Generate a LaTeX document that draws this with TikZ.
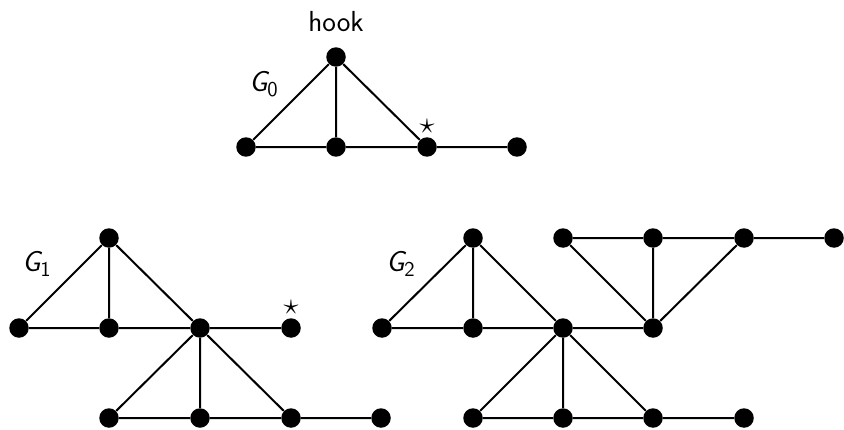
\documentclass[tikz,border=0pt]{standalone}
\begin{document}
\begin{tikzpicture}[x=0.02cm,y=-0.02cm,
  vtx/.style={circle,fill=black,inner sep=0pt,minimum size=0.39cm},
  edge/.style={line width=0.04cm},
  lbl/.style={font=\fontsize{16.5}{20}\selectfont\sffamily}]
\useasboundingbox (0,0) rectangle (844,429);

% G0
\node[vtx] (h) at (336,57) {};
\node[vtx] (a1) at (246,147) {};
\node[vtx] (a2) at (336,147) {};
\node[vtx] (a3) at (427,147) {};
\node[vtx] (a4) at (517,147) {};
\node[lbl] (hooklbl) at (336,22) {hook};
\node[lbl] (g0) at (264,84) {\itshape G$_{\mathsf{0}}$};
\node[lbl] (s0) at (427,126) {$\star$};
\draw[edge] (a1) -- (h) -- (a2) (h) -- (a3) (a1) -- (a2) -- (a3) -- (a4);

% G1
\node[vtx] (b0) at (109,238) {};
\node[vtx] (b1) at (19,328) {};
\node[vtx] (b2) at (109,328) {};
\node[vtx] (b3) at (200,328) {};
\node[vtx] (b4) at (291,328) {};
\node[vtx] (c1) at (109,418) {};
\node[vtx] (c2) at (200,418) {};
\node[vtx] (c3) at (291,418) {};
\node[vtx] (c4) at (381,418) {};
\node[lbl] (g1) at (37,264) {\itshape G$_{\mathsf{1}}$};
\node[lbl] (s1) at (291,307) {$\star$};
\draw[edge] (b1) -- (b0) -- (b2) (b0) -- (b3) (b1) -- (b2) -- (b3) -- (b4);
\draw[edge] (c1) -- (b3) -- (c2) (b3) -- (c3) (c1) -- (c2) -- (c3) -- (c4);

% G2
\node[vtx] (d0) at (473,238) {};
\node[vtx] (d1) at (382,328) {};
\node[vtx] (d2) at (473,328) {};
\node[vtx] (d3) at (563,328) {};
\node[vtx] (d4) at (653,328) {};
\node[vtx] (e1) at (473,418) {};
\node[vtx] (e2) at (563,418) {};
\node[vtx] (e3) at (653,418) {};
\node[vtx] (e4) at (744,418) {};
\node[vtx] (f1) at (563,238) {};
\node[vtx] (f2) at (653,238) {};
\node[vtx] (f3) at (744,238) {};
\node[vtx] (f4) at (834,238) {};
\node[lbl] (g2) at (401,264) {\itshape G$_{\mathsf{2}}$};
\draw[edge] (d1) -- (d0) -- (d2) (d0) -- (d3) (d1) -- (d2) -- (d3) -- (d4);
\draw[edge] (e1) -- (d3) -- (e2) (d3) -- (e3) (e1) -- (e2) -- (e3) -- (e4);
\draw[edge] (f1) -- (d4) -- (f2) (d4) -- (f3) (f1) -- (f2) -- (f3) -- (f4);
\end{tikzpicture}
\end{document}
